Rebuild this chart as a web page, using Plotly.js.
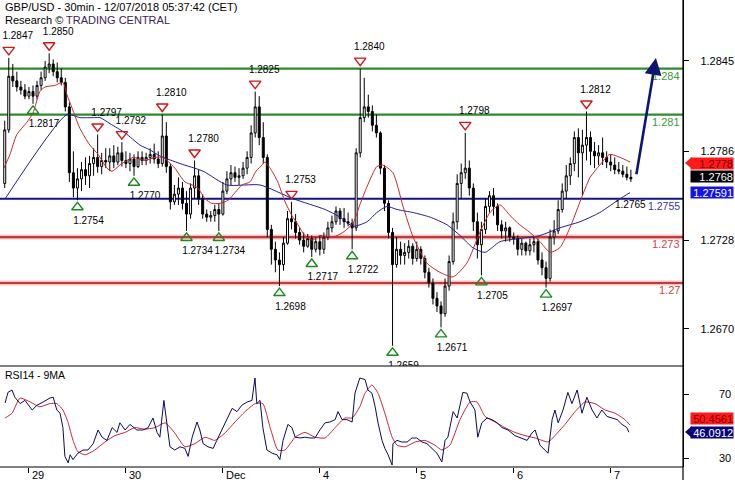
<!DOCTYPE html>
<html><head><meta charset="utf-8">
<script src="https://cdn.plot.ly/plotly-3.0.1.min.js"></script>
<style>html,body{margin:0;padding:0;background:#fff}#c{width:735px;height:480px}</style>
</head><body><div id="c"></div>
<script>
// ---- bar times: trading hours counted from 28 Nov 00:00 (weekend removed) ----
const barHour = [18,19,20,21,22,23,24,25,26,27,28,29,30,31,32,33,34,35,36,37,38,39,40,41,42,43,44,45,46,47,48,49,50,51,52,53,54,55,56,57,58,59,60,61,62,63,64,65,66,67,68,69,70,71,72,73,74,75,76,77,78,79,80,81,82,83,84,85,86,87,88,89,90,91,92,93,94,95,96,97,98,99,100,101,102,103,104,105,106,107,108,109,110,111,112,113,114,115,116,117,118,119,120,121,122,123,124,125,126,127,128,129,130,131,132,133,134,135,136,137,138,139,140,141,142,143,144,145,146,147,148,149,150,151,152,153,154,155,156,157,158,159,160,161,162,163,164,165,166,167,168,169,170,171,172,173];
const openP = [1.2765,1.2800,1.2835,1.2832,1.2828,1.2826,1.2822,1.2825,1.2822,1.2829,1.2834,1.2841,1.2843,1.2838,1.2834,1.2831,1.2815,1.2772,1.2762,1.2768,1.2774,1.2770,1.2778,1.2782,1.2776,1.2780,1.2779,1.2783,1.2779,1.2785,1.2780,1.2778,1.2781,1.2776,1.2782,1.2780,1.2782,1.2784,1.2781,1.2778,1.2796,1.2776,1.2753,1.2758,1.2762,1.2752,1.2745,1.2762,1.2770,1.2755,1.2745,1.2743,1.2744,1.2748,1.2745,1.2760,1.2768,1.2772,1.2769,1.2770,1.2775,1.2782,1.2798,1.2815,1.2795,1.2782,1.2735,1.2722,1.2715,1.2712,1.2726,1.2742,1.2740,1.2733,1.2728,1.2724,1.2729,1.2722,1.2727,1.2722,1.2730,1.2736,1.2740,1.2747,1.2742,1.2740,1.2739,1.2736,1.2785,1.2808,1.2815,1.2812,1.2803,1.2798,1.2775,1.2752,1.2733,1.2712,1.2722,1.2718,1.2720,1.2724,1.2716,1.2722,1.2716,1.2707,1.2700,1.2690,1.2685,1.2680,1.2698,1.2714,1.2740,1.2765,1.2772,1.2775,1.2762,1.2740,1.2725,1.2735,1.2750,1.2757,1.2750,1.2738,1.2734,1.2736,1.2730,1.2729,1.2722,1.2726,1.2721,1.2725,1.2727,1.2715,1.2710,1.2703,1.2730,1.2734,1.2748,1.2760,1.2770,1.2778,1.2795,1.2785,1.2790,1.2795,1.2786,1.2783,1.2785,1.2782,1.2779,1.2777,1.2774,1.2773,1.2771,1.2769];
const highP = [1.2806,1.2847,1.2843,1.2838,1.2832,1.2830,1.2828,1.2829,1.2832,1.2838,1.2845,1.2850,1.2846,1.2844,1.2840,1.2834,1.2818,1.2786,1.2775,1.2779,1.2782,1.2783,1.2788,1.2797,1.2785,1.2788,1.2788,1.2790,1.2789,1.2792,1.2786,1.2785,1.2784,1.2786,1.2786,1.2785,1.2788,1.2791,1.2786,1.2810,1.2805,1.2778,1.2764,1.2769,1.2766,1.2760,1.2765,1.2780,1.2774,1.2758,1.2748,1.2747,1.2751,1.2752,1.2766,1.2773,1.2777,1.2776,1.2775,1.2779,1.2786,1.2803,1.2825,1.2822,1.2805,1.2784,1.2738,1.2727,1.2720,1.2730,1.2747,1.2753,1.2745,1.2736,1.2733,1.2732,1.2731,1.2730,1.2731,1.2733,1.2740,1.2744,1.2750,1.2749,1.2749,1.2746,1.2742,1.2788,1.2840,1.2834,1.2823,1.2816,1.2810,1.2799,1.2777,1.2754,1.2736,1.2730,1.2727,1.2726,1.2728,1.2726,1.2727,1.2724,1.2718,1.2710,1.2703,1.2694,1.2688,1.2703,1.2718,1.2746,1.2771,1.2778,1.2798,1.2780,1.2765,1.2746,1.2740,1.2755,1.2760,1.2762,1.2752,1.2741,1.2740,1.2737,1.2733,1.2731,1.2729,1.2727,1.2729,1.2730,1.2729,1.2720,1.2714,1.2735,1.2741,1.2754,1.2765,1.2777,1.2782,1.2799,1.2801,1.2800,1.2812,1.2799,1.2792,1.2790,1.2795,1.2786,1.2784,1.2782,1.2779,1.2777,1.2776,1.2774];
const lowP = [1.2762,1.2798,1.2828,1.2825,1.2823,1.2820,1.2820,1.2817,1.2820,1.2826,1.2832,1.2837,1.2835,1.2831,1.2829,1.2812,1.2766,1.2756,1.2754,1.2760,1.2764,1.2762,1.2770,1.2772,1.2771,1.2775,1.2773,1.2775,1.2777,1.2776,1.2775,1.2773,1.2770,1.2775,1.2777,1.2777,1.2778,1.2778,1.2775,1.2776,1.2772,1.2748,1.2751,1.2751,1.2748,1.2734,1.2742,1.2755,1.2751,1.2742,1.2740,1.2740,1.2740,1.2734,1.2744,1.2758,1.2764,1.2766,1.2764,1.2768,1.2771,1.2778,1.2795,1.2790,1.2778,1.2730,1.2712,1.2707,1.2698,1.2708,1.2725,1.2735,1.2729,1.2725,1.2720,1.2723,1.2717,1.2720,1.2718,1.2719,1.2728,1.2733,1.2738,1.2738,1.2736,1.2737,1.2722,1.2734,1.2782,1.2805,1.2808,1.2799,1.2795,1.2771,1.2747,1.2729,1.2659,1.2710,1.2712,1.2712,1.2716,1.2712,1.2714,1.2712,1.2703,1.2697,1.2686,1.2681,1.2671,1.2678,1.2695,1.2712,1.2735,1.2755,1.2768,1.2757,1.2734,1.2716,1.2705,1.2732,1.2746,1.2744,1.2734,1.2729,1.2727,1.2727,1.2725,1.2718,1.2718,1.2718,1.2718,1.2720,1.2712,1.2705,1.2697,1.2701,1.2725,1.2732,1.2746,1.2755,1.2764,1.2773,1.2769,1.2757,1.2780,1.2777,1.2775,1.2777,1.2777,1.2775,1.2773,1.2771,1.2771,1.2769,1.2767,1.2766];
const closeP = [1.2800,1.2835,1.2832,1.2828,1.2826,1.2822,1.2825,1.2822,1.2829,1.2834,1.2841,1.2843,1.2838,1.2834,1.2831,1.2815,1.2772,1.2762,1.2768,1.2774,1.2770,1.2778,1.2782,1.2776,1.2780,1.2779,1.2783,1.2779,1.2785,1.2780,1.2778,1.2781,1.2776,1.2782,1.2780,1.2782,1.2784,1.2781,1.2778,1.2796,1.2776,1.2753,1.2758,1.2762,1.2752,1.2745,1.2762,1.2770,1.2755,1.2745,1.2743,1.2744,1.2748,1.2745,1.2760,1.2768,1.2772,1.2769,1.2770,1.2775,1.2782,1.2798,1.2815,1.2795,1.2782,1.2735,1.2722,1.2715,1.2712,1.2726,1.2742,1.2740,1.2733,1.2728,1.2724,1.2729,1.2722,1.2727,1.2722,1.2730,1.2736,1.2740,1.2747,1.2742,1.2740,1.2739,1.2736,1.2785,1.2808,1.2815,1.2812,1.2803,1.2798,1.2775,1.2752,1.2733,1.2712,1.2722,1.2718,1.2720,1.2724,1.2716,1.2722,1.2716,1.2707,1.2700,1.2690,1.2685,1.2680,1.2698,1.2714,1.2740,1.2765,1.2772,1.2775,1.2762,1.2740,1.2725,1.2735,1.2750,1.2757,1.2750,1.2738,1.2734,1.2736,1.2730,1.2729,1.2722,1.2726,1.2721,1.2725,1.2727,1.2715,1.2710,1.2703,1.2730,1.2734,1.2748,1.2760,1.2770,1.2778,1.2795,1.2785,1.2790,1.2795,1.2786,1.2783,1.2785,1.2782,1.2779,1.2777,1.2774,1.2773,1.2771,1.2769,1.2768];

// ---- moving averages on price ----
const maFastX = [17.8,19.3,21.0,23.5,25.0,26.7,28.0,30.4,32.4,33.4,34.7,36.6,39.1,41.1,43.3,44.6,46.5,49.8,52.7,55.2,57.2,58.2,60.1,62.6,64.4,65.8,67.6,69.3,71.3,73.3,75.0,76.7,78.7,80.2,81.7,82.4,83.7,85.6,87.4,89.1,90.6,92.3,94.1,96.0,99.3,101.7,104.2,105.9,107.7,110.1,111.6,114.1,116.6,119.1,122.5,125.7,129.0,132.4,135.6,138.1,140.6,143.1,145.5,148.0,150.5,153.0,155.4,157.9,160.4,162.9,165.3,167.8,170.3,172.8];
const maFastV = [1.2775,1.2784,1.2797,1.2805,1.2811,1.2825,1.2828,1.2829,1.2831,1.2823,1.2814,1.2801,1.2790,1.2784,1.2775,1.2773,1.2777,1.2782,1.2780,1.2782,1.2782,1.2780,1.2775,1.2766,1.2764,1.2762,1.2755,1.2752,1.2752,1.2754,1.2759,1.2764,1.2766,1.2773,1.2777,1.2779,1.2775,1.2766,1.2753,1.2744,1.2738,1.2731,1.2728,1.2731,1.2730,1.2733,1.2739,1.2751,1.2763,1.2776,1.2777,1.2772,1.2750,1.2730,1.2713,1.2707,1.2704,1.2713,1.2733,1.2746,1.2751,1.2744,1.2738,1.2733,1.2727,1.2720,1.2723,1.2736,1.2753,1.2769,1.2777,1.2784,1.2782,1.2779];
const maSlowX = [18.1,33.4,36.6,40.3,41.6,44.1,47.8,51.5,53.9,56.4,61.4,67.1,73.0,81.2,89.4,97.3,101.0,104.2,107.7,110.1,112.6,115.1,119.1,123.3,127.5,130.7,133.9,136.9,140.6,145.5,150.5,155.4,160.4,165.3,170.3,172.8];
const maSlowV = [1.2755,1.2810,1.2808,1.2808,1.2808,1.2804,1.2798,1.2790,1.2787,1.2783,1.2778,1.2773,1.2764,1.2764,1.2755,1.2748,1.2743,1.2737,1.2740,1.2746,1.2750,1.2748,1.2746,1.2743,1.2738,1.2731,1.2723,1.2720,1.2727,1.2729,1.2731,1.2736,1.2740,1.2746,1.2755,1.2759];

// ---- RSI(14) and its 9-period MA ----
const rsiX = [18.1,18.8,19.8,20.5,21.8,23.0,24.8,26.0,27.5,29.2,30.0,30.9,31.7,32.4,32.9,33.7,34.2,34.9,36.1,37.4,38.6,39.9,41.1,42.1,43.3,44.6,45.8,46.5,47.8,49.0,50.7,52.2,53.5,54.7,55.7,56.4,57.4,58.2,58.9,60.1,61.4,62.6,63.4,64.4,65.6,66.3,67.1,68.3,69.6,70.5,71.8,73.0,74.3,75.5,76.7,78.0,79.2,79.95,80.4,81.2,81.9,82.9,84.2,85.4,86.1,86.9,88.1,89.1,89.9,91.1,92.3,93.6,94.8,96.0,97.3,98.5,99.8,100.5,101.5,102.7,104.0,104.7,105.9,107.2,107.9,108.9,109.7,110.4,111.4,112.1,112.9,113.9,114.1,115.1,116.3,117.6,118.8,120.0,121.3,122.5,123.8,125.0,126.2,127.0,127.7,129.0,130.0,130.7,131.4,132.4,133.2,134.4,135.1,136.1,137.4,138.6,139.9,141.1,142.6,144.3,146.0,147.3,148.5,149.3,150.5,151.7,152.5,153.5,154.2,155.0,156.2,157.4,158.4,159.7,160.9,162.1,163.4,164.6,165.8,167.1,168.3,169.6,170.8,172.0,172.5];
const rsiV = [64.4,71,72.5,68,64,66,60,63,65,67.5,68,60,58,49,31,27,32,29,33,35,35,39,47.5,43,41,49,46,52,47.5,51,47.5,47.5,49,55,46,43,66,52,37,35,37,36,31,43,52.5,47.5,39,37,36,41,47.5,54,61,59,63,65,66,80,64,66,49,35,33,32,29,41,51,49,43,42.5,43,42.5,42.5,47.5,52,52.5,54,59,54,54,52.5,70.5,80,79,72.5,70.5,62,52,41,36,32,25.6,39,41,40,40,42.5,42.5,40,39,36,33,27.5,41,43,59,55,64,71,70.5,65,60,43,52,55,54,52,49,47.5,44,42.5,41,45.6,47.5,38,35,33,54,60,52,60,71,64,72.5,58,68,60,55,60,56,55,54,51,49,46.09];
const rsiMaX = [18.1,19.8,21.8,24.3,26.7,29.2,30.9,32.4,33.7,34.9,36.1,37.9,40.3,42.8,45.3,47.8,50.2,52.7,55.2,57.7,60.1,62.6,65.1,67.6,70.0,72.5,75.0,77.5,80.0,81.9,83.7,85.6,87.4,89.9,92.3,94.8,97.3,99.8,102.2,104.0,105.9,107.2,108.9,110.4,112.1,113.9,115.1,117.1,119.6,122.0,124.5,126.2,128.2,130.7,133.2,134.9,136.9,139.4,141.8,144.3,146.8,149.3,152.5,154.2,156.7,159.2,161.6,164.1,166.6,169.1,171.5,172.8];
const rsiMaV = [55,58,67.5,65,62,64,64,60,52,41,34,32,35,40,44,46,49,48,49,52,45.6,37,39,43,41,45.6,52.5,59,64,64,49,35,35,43,46,43,42.5,49,55,55,62,70.5,75.6,70.5,58,43,38,37,40,41,38,35,38,54,65,65,56,52.5,49,46,44,42.5,40,44,51,59,65,64,60,58,54,50.46];

// ---- turning points ----
const highPivX = [19,29,41,47,57,65,80,89,106,132,162];
const highPivV = [1.2847,1.2850,1.2797,1.2792,1.2810,1.2780,1.2825,1.2753,1.2840,1.2798,1.2812];
const lowPivX = [25,36,50,63,71,86,94,104,114,126,136,152];
const lowPivV = [1.2817,1.2754,1.2770,1.2734,1.2734,1.2698,1.2717,1.2722,1.2659,1.2671,1.2705,1.2697];

// ---- levels ----
const levelV = [1.2840,1.2810,1.2755,1.2730,1.2700];
const levelLabel = ['1.284','1.281','1.2755','1.273','1.27'];
const levelKind = ['res','res','pivot','sup','sup'];

// ---- axis ticks ----
const dayTickX = [24,48,72,96,120,144,168];
const dayTickText = ['29','30','Dec','4','5','6','7'];
const priceTicks = [1.2670,1.2728,1.2786,1.2845];
const rsiTicks = [30,70];

// ---- last values & target ----
const lastMaFast = 1.2778, lastClose = 1.2768, lastMaSlow = 1.27591;
const lastRsiMa = 50.4561, lastRsi = 46.0912;
const maEndLabel = '1.2765';
const targetFrom = [174.3, 1.2770], targetTo = [179.2, 1.2847];

// ---------------- layout geometry ----------------
const W = 735, H = 480, plotW = 683, plotH = 467, mainH = 366;
const xRange = [16.83, 185.9];
const yRange = [1.26458, 1.28848];
const rsiRange = [24.375, 87.5];
const splitY = 1 - mainH/plotH;
const pxY = (yRange[1]-yRange[0])/mainH;
const pxX = (xRange[1]-xRange[0])/plotW;
const px = v => v/plotW;
const py = v => (plotH - v)/plotH;
const FONT = 'Liberation Sans, Arial, sans-serif';

const traces = [];
traces.push({type:'scatter', mode:'lines', x:maSlowX, y:maSlowV, line:{color:'#1f1f8f', width:1, shape:'spline', smoothing:0.6}, hoverinfo:'skip'});
traces.push({type:'scatter', mode:'lines', x:maFastX, y:maFastV, line:{color:'#c8282d', width:1, shape:'spline', smoothing:0.6}, hoverinfo:'skip'});
traces.push({type:'candlestick', x:barHour, open:openP, high:highP, low:lowP, close:closeP,
  increasing:{line:{color:'#000', width:1}, fillcolor:'#ffffff'},
  decreasing:{line:{color:'#000', width:1}, fillcolor:'#000000'},
  whiskerwidth:0, hoverinfo:'skip'});
traces.push({type:'scatter', mode:'markers', x:highPivX, y:highPivV.map(v=>v+8*pxY),
  marker:{symbol:'triangle-down-open', size:10, color:'#d01818', line:{width:1.4, color:'#d01818'}}, hoverinfo:'skip'});
traces.push({type:'scatter', mode:'markers', x:lowPivX, y:lowPivV.map(v=>v-7*pxY),
  marker:{symbol:'triangle-up-open', size:10, color:'#1a8a1a', line:{width:1.4, color:'#1a8a1a'}}, hoverinfo:'skip'});
traces.push({type:'scatter', mode:'text', x:highPivX.map(v=>v+9*pxX), y:highPivV.map(v=>v+21*pxY),
  text:highPivV.map(v=>v.toFixed(4)), textfont:{family:FONT, size:10, color:'#000'}, hoverinfo:'skip'});
traces.push({type:'scatter', mode:'text', x:lowPivX.map(v=>v+11*pxX), y:lowPivV.map(v=>v-21*pxY),
  text:lowPivV.map(v=>v.toFixed(4)), textfont:{family:FONT, size:10, color:'#000'}, hoverinfo:'skip'});
traces.push({type:'scatter', mode:'lines', x:rsiMaX, y:rsiMaV, xaxis:'x', yaxis:'y2', line:{color:'#c8282d', width:1, shape:'spline', smoothing:0.5}, hoverinfo:'skip'});
traces.push({type:'scatter', mode:'lines', x:rsiX, y:rsiV, xaxis:'x', yaxis:'y2', line:{color:'#0a0a5a', width:1}, hoverinfo:'skip'});

const shapes = [];
const levelColor = {res:'#2e8a2e', pivot:'#12128a', sup:'#c23a3a'};
const levelText = {res:'#3c9a3c', pivot:'#3535a5', sup:'#c84848'};
levelV.forEach((v,i)=>{
  if (levelKind[i]==='sup') shapes.push({type:'line', xref:'paper', yref:'y', x0:0, x1:1, y0:v, y1:v, line:{color:'#f2c4c4', width:5}, layer:'below'});
  shapes.push({type:'line', xref:'paper', yref:'y', x0:0, x1:1, y0:v, y1:v, line:{color:levelColor[levelKind[i]], width:2.2}, layer:'below'});
});
// panel borders
shapes.push({type:'line', xref:'paper', yref:'paper', x0:0, x1:1, y0:splitY, y1:splitY, line:{color:'#000', width:1.2}});
shapes.push({type:'line', xref:'paper', yref:'paper', x0:1, x1:1, y0:py(480), y1:1, line:{color:'#000', width:1.2}});
shapes.push({type:'line', xref:'paper', yref:'paper', x0:0, x1:1, y0:0, y1:0, line:{color:'#000', width:1.2}});
// tag notches
function notch(yc, col){ return {type:'path', xref:'paper', yref:'paper', path:`M ${px(685)} ${py(yc)} L ${px(692)} ${py(yc-6)} L ${px(692)} ${py(yc+6)} Z`, fillcolor:col, line:{width:0}}; }
shapes.push(notch(163,'#ff1a1a'));
shapes.push(notch(432,'#06067a'));

const ann = [];
ann.push({xref:'paper', yref:'paper', x:px(3), y:py(7), xanchor:'left', yanchor:'middle', showarrow:false, text:'GBP/USD - 30min - 12/07/2018 05:37:42 (CET)', font:{family:FONT, size:11, color:'#000'}});
ann.push({xref:'paper', yref:'paper', x:px(3), y:py(20), xanchor:'left', yanchor:'middle', showarrow:false, text:'Research © <span style="color:#3d2358">TRADING CENTRAL</span>', font:{family:FONT, size:11, color:'#000'}});
ann.push({xref:'paper', yref:'paper', x:px(3), y:py(375), xanchor:'left', yanchor:'middle', showarrow:false, text:'RSI14 - 9MA', font:{family:FONT, size:10.5, color:'#000'}});
levelV.forEach((v,i)=>{
  ann.push({xref:'paper', yref:'y', x:1, y:v, xanchor:'right', yanchor:'middle', yshift:-7, xshift:-1, showarrow:false, text:levelLabel[i], font:{family:FONT, size:levelKind[i]==='pivot'?10.5:11, color:levelText[levelKind[i]]}});
});
ann.push({xref:'paper', yref:'y', x:px(648), y:levelV[2], xanchor:'right', yanchor:'middle', yshift:-6, showarrow:false, text:maEndLabel, font:{family:FONT, size:10, color:'#000'}});
dayTickX.forEach((v,i)=>{
  ann.push({xref:'x', yref:'paper', x:v, y:py(475), xanchor:'left', yanchor:'middle', xshift:1, showarrow:false, text:dayTickText[i], font:{family:FONT, size:11, color:'#000'}});
});
// RSI scale labels (right aligned like the reference)
rsiTicks.forEach(v=>{
  ann.push({xref:'paper', yref:'y2', x:px(733), y:v, xanchor:'right', yanchor:'middle', showarrow:false, text:String(v), font:{family:FONT, size:11, color:'#000'}});
});
// value tags
function tag(v, yref, bg, fg, yshift){
  return {xref:'paper', yref:yref, x:px(690), y:v, xanchor:'left', yanchor:'middle', yshift:yshift, showarrow:false,
    text:String(v), bgcolor:bg, font:{family:FONT, size:11, color:fg}, width:42, height:11, align:'right', valign:'middle', borderpad:0};
}
ann.push(tag(lastMaFast,'y','#ff1a1a','#7a0000',0));
ann.push(tag(lastClose,'y','#000000','#ffffff',2));
ann.push(tag(lastMaSlow,'y','#1414e6','#ffffff',0));
ann.push(tag(lastRsiMa,'y2','#ff1a1a','#7a0000',7));
ann.push(tag(lastRsi,'y2','#06067a','#ffffff',0));
// projected target arrow
ann.push({xref:'x', yref:'y', axref:'x', ayref:'y', x:targetTo[0], y:targetTo[1], ax:targetFrom[0], ay:targetFrom[1],
  showarrow:true, arrowhead:2, arrowsize:1.3, arrowwidth:2.6, arrowcolor:'#0e1670', text:''});

const layout = {
  width:W, height:H, margin:{l:0, r:W-plotW, t:0, b:H-plotH, pad:0},
  paper_bgcolor:'#fff', plot_bgcolor:'#fff', showlegend:false,
  xaxis:{range:xRange, anchor:'y2', showgrid:false, zeroline:false, showline:false,
    tickvals:dayTickX, ticktext:dayTickX.map(()=>''), ticks:'outside', ticklen:5, tickcolor:'#000', tickwidth:1,
    rangeslider:{visible:false}, fixedrange:true},
  yaxis:{domain:[splitY,1], range:yRange, side:'right', anchor:'x', showgrid:false, zeroline:false,
    tickvals:priceTicks, ticktext:priceTicks.map(v=>v.toFixed(4)), ticks:'outside', ticklen:5, tickcolor:'#000',
    ticklabelstandoff:9, tickfont:{family:FONT, size:11, color:'#000'}, showline:true, linecolor:'#000', linewidth:1.2},
  yaxis2:{domain:[0,splitY], range:rsiRange, side:'right', anchor:'x', showgrid:false, zeroline:false,
    tickvals:rsiTicks, ticktext:rsiTicks.map(()=>''), ticks:'outside', ticklen:5, tickcolor:'#000',
    showline:true, linecolor:'#000', linewidth:1.2},
  shapes:shapes, annotations:ann
};
Plotly.newPlot('c', traces, layout, {staticPlot:true, displayModeBar:false});
</script></body></html>
